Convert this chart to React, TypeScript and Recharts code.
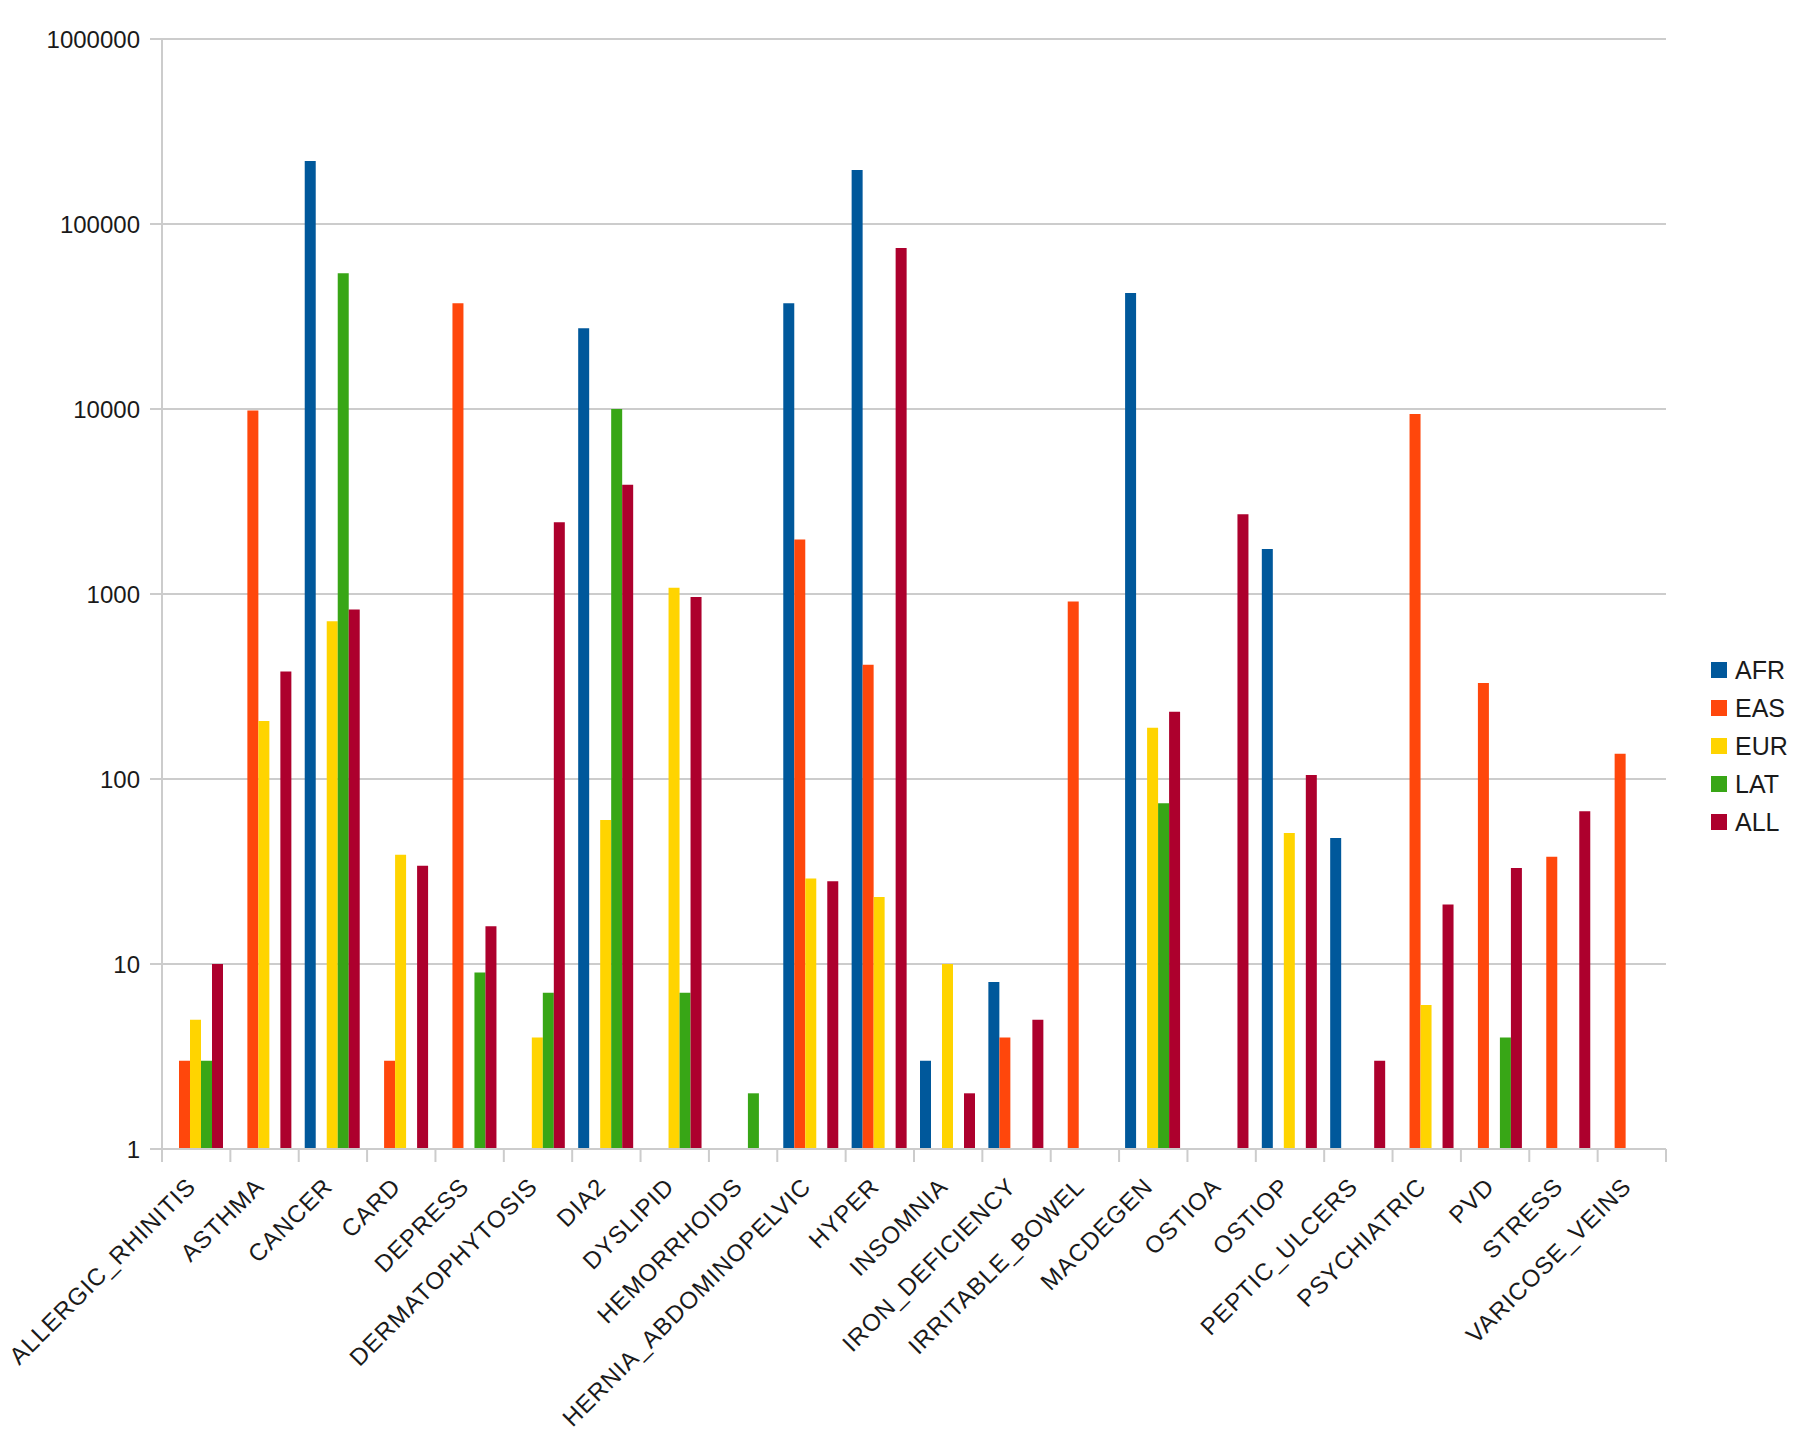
import { BarChart, Bar, XAxis, YAxis, CartesianGrid, Legend } from "recharts";

const CATEGORIES = [
  "ALLERGIC_RHINITIS", "ASTHMA", "CANCER", "CARD", "DEPRESS", "DERMATOPHYTOSIS", "DIA2", "DYSLIPID",
  "HEMORRHOIDS", "HERNIA_ABDOMINOPELVIC", "HYPER", "INSOMNIA", "IRON_DEFICIENCY", "IRRITABLE_BOWEL",
  "MACDEGEN", "OSTIOA", "OSTIOP", "PEPTIC_ULCERS", "PSYCHIATRIC", "PVD", "STRESS", "VARICOSE_VEINS",
];

const AFR = [null, null, 219000, null, null, null, 27300, null, null, 37300, 196000, 3, 8, null, 42400, null, 1750, 48, null, null, null, null];
const EAS = [3, 9800, null, 3, 37300, null, null, null, null, 1970, 415, null, 4, 910, null, null, null, null, 9400, 330, 38, 137];
const EUR = [5, 206, 713, 39, null, 4, 60, 1080, null, 29, 23, 10, null, null, 189, null, 51, null, 6, null, null, null];
const LAT = [3, null, 54100, null, 9, 7, 10000, 7, 2, null, null, null, null, null, 74, null, null, null, null, 4, null, null];
const ALL = [10, 381, 824, 34, 16, 2440, 3900, 963, null, 28, 74100, 2, 5, null, 231, 2700, 105, 3, 21, 33, 67, null];

const SERIES = [
  { key: "AFR", values: AFR, color: "#00589b" },
  { key: "EAS", values: EAS, color: "#ff470c" },
  { key: "EUR", values: EUR, color: "#ffd400" },
  { key: "LAT", values: LAT, color: "#38a616" },
  { key: "ALL", values: ALL, color: "#ad002d" },
];

const Y_TICKS = [1, 10, 100, 1000, 10000, 100000, 1000000];

const data = CATEGORIES.map((name, i) => {
  const row: any = { name };
  SERIES.forEach(s => { row[s.key] = s.values[i]; });
  return row;
});

const W = 1800;
const H = 1452;
const MARGIN = { top: 39, right: 39, bottom: 0, left: 0 };
const LEGEND_W = 95;
const Y_W = 162;
const PLOT_W = W - MARGIN.left - MARGIN.right - LEGEND_W - Y_W;
const BAND = PLOT_W / CATEGORIES.length;
const FONT = "'Liberation Sans', Arial, sans-serif";
const GRID = "#cccccc";

// category labels sit between boundary ticks, rotated like the spreadsheet export
function XTick(props: any) {
  const { x, y, payload, index } = props;
  const left = x - BAND / 2;
  return (
    <g>
      <line x1={left} y1={y} x2={left} y2={y + 13} stroke={GRID} strokeWidth={2} />
      {index === CATEGORIES.length - 1 && (
        <line x1={x + BAND / 2} y1={y} x2={x + BAND / 2} y2={y + 13} stroke={GRID} strokeWidth={2} />
      )}
      <g transform={`translate(${x + 1},${y + 39})`}>
        <text x={0} y={0} textAnchor="end" transform="rotate(-45)" fontSize={24} fontFamily={FONT} fill="#1a1a1a" letterSpacing={1}>
          {payload.value}
        </text>
      </g>
    </g>
  );
}

function renderLegend() {
  return (
    <div style={{ fontFamily: FONT, fontSize: 25, color: "#1a1a1a" }}>
      {SERIES.map(s => (
        <div key={s.key} style={{ display: "flex", alignItems: "center", height: 38 }}>
          <span style={{ width: 16, height: 16, background: s.color, display: "inline-block", marginRight: 8 }} />
          <span>{s.key}</span>
        </div>
      ))}
    </div>
  );
}

export default function App() {
  return (
    <div style={{ position: "absolute", left: 0, top: 0, width: W, height: H, background: "#fff" }}>
      <BarChart width={W} height={H} data={data} margin={MARGIN} barCategoryGap={6} barGap={0}>
        <CartesianGrid yAxisId="left" vertical={false} stroke={GRID} strokeWidth={2} />
        <XAxis
          dataKey="name"
          interval={0}
          height={303}
          tickSize={0}
          tickMargin={0}
          tickLine={false}
          axisLine={{ stroke: GRID, strokeWidth: 2 }}
          tick={<XTick />}
        />
        <YAxis
          yAxisId="left"
          scale="log"
          domain={[1, 1000000]}
          ticks={Y_TICKS}
          allowDataOverflow
          width={Y_W}
          tickSize={12}
          tickMargin={10}
          axisLine={{ stroke: GRID, strokeWidth: 2 }}
          tickLine={{ stroke: GRID, strokeWidth: 2 }}
          tick={{ fontSize: 24, fontFamily: FONT, fill: "#1a1a1a" }}
        />
        <YAxis
          yAxisId="right"
          orientation="right"
          scale="log"
          domain={[1, 1000000]}
          allowDataOverflow
          width={0}
          tick={false}
          tickLine={false}
          axisLine={{ stroke: GRID, strokeWidth: 2 }}
        />
        <Legend
          layout="vertical"
          align="right"
          verticalAlign="middle"
          content={renderLegend}
          wrapperStyle={{ position: "absolute", left: 1711, top: 651, width: LEGEND_W }}
        />
        {SERIES.map(s => (
          <Bar key={s.key} yAxisId="left" dataKey={s.key} fill={s.color} isAnimationActive={false} />
        ))}
      </BarChart>
    </div>
  );
}
